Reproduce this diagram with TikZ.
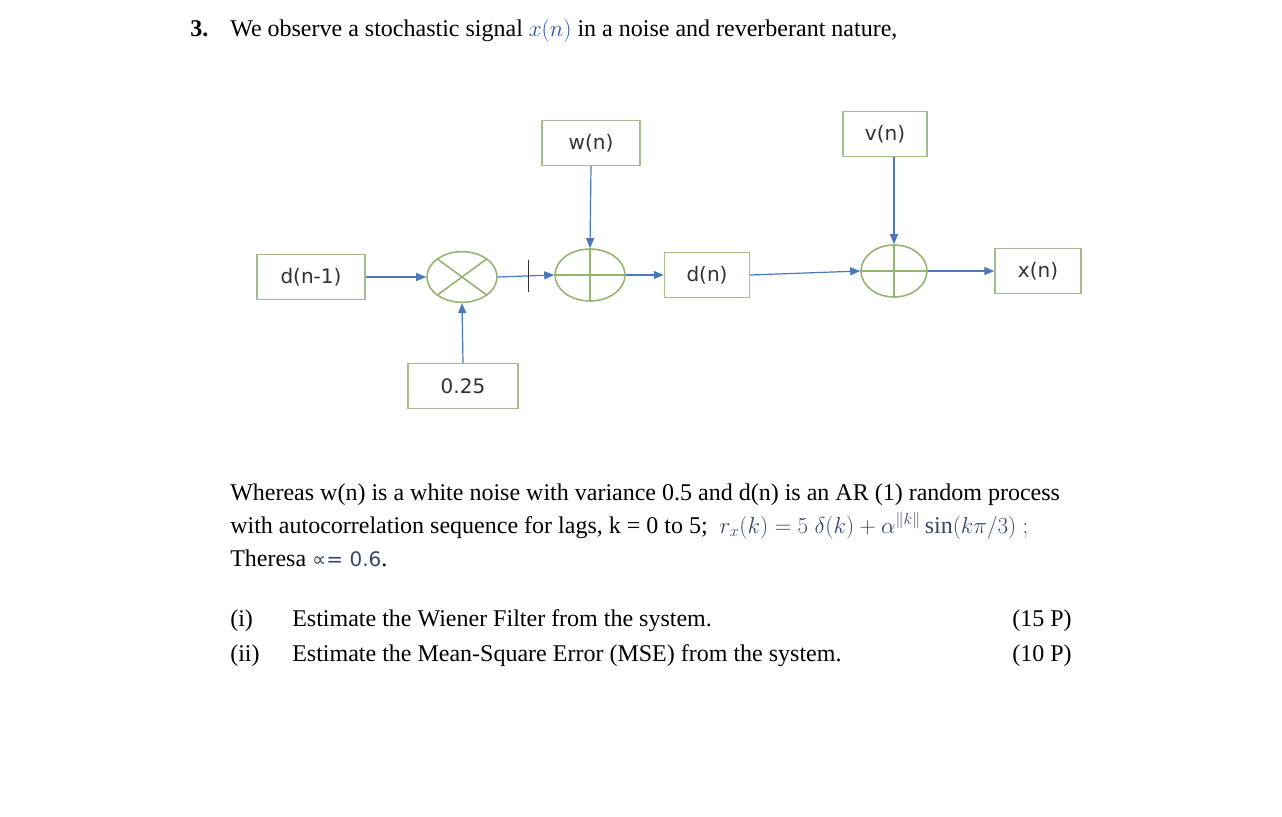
\documentclass[tikz,border=0pt]{standalone}
\usepackage{fontspec}
\setmainfont{Liberation Serif}
\newfontfamily\labfont{DejaVu Sans}
\usetikzlibrary{arrows.meta,shapes.geometric}
\definecolor{boxc}{RGB}{165,188,145}
\definecolor{ringc}{RGB}{150,180,112}
\definecolor{linec}{RGB}{74,120,185}
\definecolor{mathc}{RGB}{55,70,105}
\definecolor{xnc}{RGB}{45,80,160}
\definecolor{labc}{RGB}{50,50,50}
\begin{document}
\begin{tikzpicture}[x=0.75pt,y=-0.75pt,
  blockbox/.style={draw=boxc, line width=1.1pt, inner sep=0pt, text=labc,
    font=\labfont\fontsize{15}{18}\selectfont, minimum height=33.75pt},
  ring/.style={draw=ringc, line width=1.2pt, ellipse, inner sep=0pt,
    minimum width=52.5pt, minimum height=38pt},
  sig/.style={draw=linec, line width=0.9pt, -{Triangle[length=7.5pt,width=6pt]}},
  tickmark/.style={draw=labc, line width=0.9pt, inner sep=0pt, minimum width=0pt, minimum height=24pt},
  txt/.style={anchor=base west, inner sep=0pt, font=\fontsize{18}{22}\selectfont}]
\useasboundingbox (0,0) rectangle (1282,817);
% blocks
\node[blockbox, minimum width=81pt] (dn1) at (311,277) {d(n-1)};
\node[ring] (mul) at (462,277) {};
\draw[ringc, line width=1.2pt] (mul.north east) -- (mul.south west) (mul.north west) -- (mul.south east);
\node[ring, minimum height=39pt] (add1) at (590,275) {};
\draw[ringc, line width=1.2pt] (add1.north) -- (add1.south) (add1.west) -- (add1.east);
\node[blockbox, minimum width=73.5pt] (w) at (591,143) {w(n)};
\node[blockbox, minimum width=63.75pt] (dn) at (707,275) {d(n)};
\node[ring, minimum width=49.5pt, minimum height=39pt] (add2) at (894,271) {};
\draw[ringc, line width=1.2pt] (add2.north) -- (add2.south) (add2.west) -- (add2.east);
\node[blockbox, minimum width=63pt] (v) at (885,134) {v(n)};
\node[blockbox, minimum width=64.5pt] (xn) at (1038,271) {x(n)};
\node[blockbox, minimum width=82.5pt] (c) at (463,386) {0.25};
% connectors
\draw[sig] (dn1.east) -- (mul.west);
\draw[sig] (mul.east) -- node[pos=0.55, tickmark] {} (add1.west);
\draw[sig] (w.south) -- (add1.north);
\draw[sig] (c.north) -- (mul.south);
\draw[sig] (add1.east) -- (dn.west);
\draw[sig] (dn.east) -- (add2.west);
\draw[sig] (v.south -| add2.north) -- (add2.north);
\draw[sig] (add2.east) -- (xn.west);
% text
\node[txt, font=\fontsize{18}{22}\selectfont\bfseries] (num) at (190,37) {3.};
\node[txt] (title) at (230,37) {We observe a stochastic signal {\color{xnc}$x(n)$} in a noise and reverberant nature,};
\node[txt] (p1) at (230,500) {Whereas w(n) is a white noise with variance 0.5 and d(n) is an AR (1) random process};
\node[txt] (p2) at (230,533) {with autocorrelation sequence for lags, k = 0 to 5; \ {\color{mathc}$r_x(k) = 5\;\delta(k) + \alpha^{\|k\|}\,\mathrm{sin}(k\pi/3)\;;$}};
\node[txt] (p3) at (230,566) {Theresa {\color{mathc}\labfont\fontsize{15}{18}\selectfont ∝= 0.6}.};
\node[txt] (i1) at (230,626) {(i)};
\node[txt] (i1t) at (292,626) {Estimate the Wiener Filter from the system.};
\node[txt] (i1p) at (1012,626) {(15 P)};
\node[txt] (i2) at (230,661) {(ii)};
\node[txt] (i2t) at (292,661) {Estimate the Mean-Square Error (MSE) from the system.};
\node[txt] (i2p) at (1012,661) {(10 P)};
\end{tikzpicture}
\end{document}
